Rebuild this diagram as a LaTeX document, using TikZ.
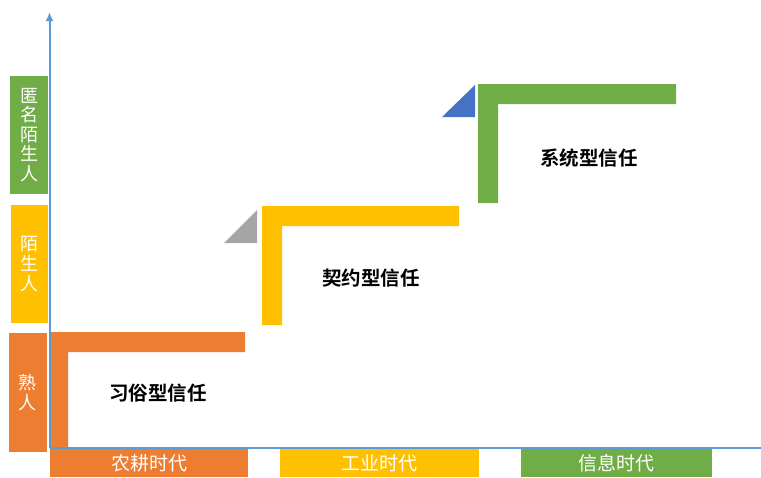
\documentclass[tikz,border=0pt]{standalone}
\usepackage{fontspec}
\newfontfamily\cjk[BoldFont={Noto Sans CJK SC Bold}]{Noto Sans CJK SC}
\usetikzlibrary{arrows.meta}
\definecolor{cOrange}{HTML}{ED7D31}
\definecolor{cYellow}{HTML}{FFC000}
\definecolor{cGreen}{HTML}{70AD47}
\definecolor{cGray}{HTML}{A5A5A5}
\definecolor{cBlue}{HTML}{4472C4}
\definecolor{cAxis}{HTML}{5B9BD5}
\tikzset{
  sidebox/.style={inner sep=0pt, minimum width=38pt, minimum height=118pt, text=white,
    font=\cjk\fontsize{18pt}{19.6pt}\selectfont, align=center},
  erabox/.style={inner sep=0pt, minimum height=28pt, text=white,
    font=\cjk\fontsize{19pt}{20pt}\selectfont},
  trust/.style={inner sep=0pt, text=black, font=\cjk\bfseries\fontsize{19.5pt}{20pt}\selectfont},
  axisline/.style={draw=cAxis, line width=2pt}
}
\begin{document}
\begin{tikzpicture}[x=1pt,y=-1pt]
\useasboundingbox (0,0) rectangle (761,477);
% left side labels
\node[sidebox, fill=cGreen] (anon) at (29,135) {匿\\名\\陌\\生\\人};
\node[sidebox, fill=cYellow, minimum width=37pt] (stranger) at (29.5,264) {陌\\生\\人};
\node[sidebox, fill=cOrange, minimum height=119pt] (acq) at (28,392.5) {熟\\人};
% bottom era labels
\node[erabox, fill=cOrange, minimum width=198pt] (agri) at (149,463) {农耕时代};
\node[erabox, fill=cYellow, minimum width=199pt] (indus) at (379.5,463) {工业时代};
\node[erabox, fill=cGreen, minimum width=191pt] (info) at (616.5,463) {信息时代};
% L shapes
\fill[cOrange] (50,332) -- (245,332) -- (245,352) -- (68,352) -- (68,447) -- (50,447) -- cycle;
\fill[cYellow] (262,206) -- (459,206) -- (459,226) -- (282,226) -- (282,325) -- (262,325) -- cycle;
\fill[cGreen] (478,84) -- (676,84) -- (676,104) -- (498,104) -- (498,203) -- (478,203) -- cycle;
% triangles
\fill[cGray] (224,243) -- (257,210) -- (257,243) -- cycle;
\fill[cBlue] (442,117) -- (475,85) -- (475,117) -- cycle;
% trust labels
\node[trust] (custom) at (158,393) {习俗型信任};
\node[trust] (contract) at (371,278) {契约型信任};
\node[trust] (system) at (589,158) {系统型信任};
% axes
\coordinate (O) at (49.5,448);
\coordinate (Ytop) at (49.5,12);
\coordinate (Xend) at (761,448);
\draw[axisline, -{Latex[length=9pt,width=8pt]}] (O) -- (Ytop);
\draw[axisline] (O) -- (Xend);
\end{tikzpicture}
\end{document}
